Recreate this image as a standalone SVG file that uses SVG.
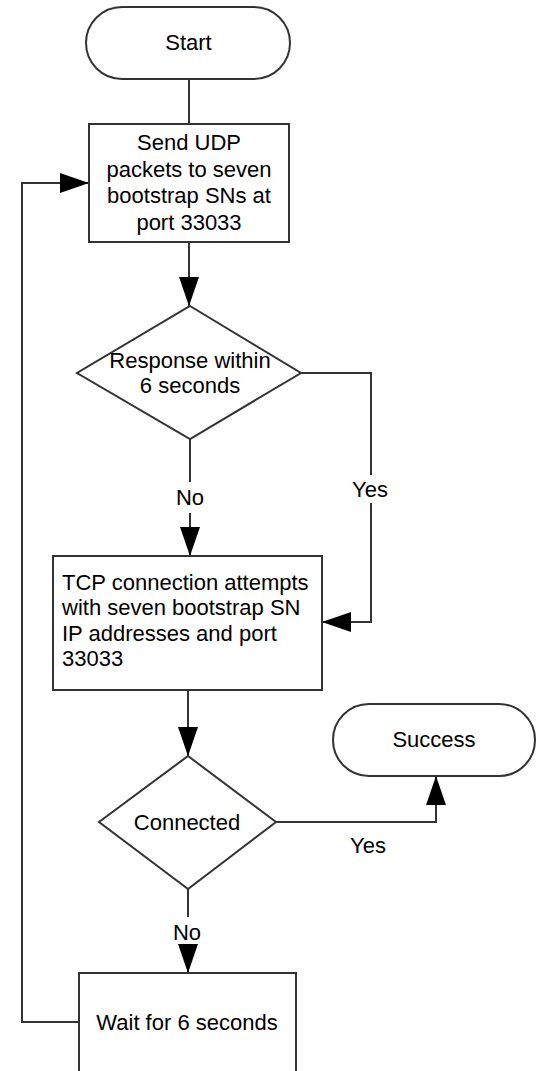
<svg xmlns="http://www.w3.org/2000/svg" width="536" height="1071" viewBox="0 0 536 1071">
<style>
.shape{fill:#fff;stroke:#333;stroke-width:2}
.line{fill:none;stroke:#333;stroke-width:2}
.arr{marker-end:url(#ah)}
text{font-family:"Liberation Sans",Arial,sans-serif;font-size:22px;fill:#000}
.c{text-anchor:middle}
</style>
<defs>
<marker id="ah" markerUnits="userSpaceOnUse" markerWidth="30" markerHeight="22" refX="29" refY="10" orient="auto">
<path d="M0,0 L29,10 L0,20 Z" fill="#000"/>
</marker>
</defs>
<rect width="536" height="1071" fill="#fff"/>
<g id="connectors">
<path class="line" d="M189,79 V124"/>
<path class="line arr" d="M189,242 V306"/>
<path class="line" d="M190,439 V482"/>
<path class="line arr" d="M190,513 V556"/>
<path class="line" d="M301,373 H371 V475"/>
<path class="line arr" d="M371,503 V622 H322"/>
<path class="line arr" d="M188,690 V756"/>
<path class="line arr" d="M276,822 H436 V776"/>
<path class="line" d="M188,889 V917"/>
<path class="line arr" d="M188,945 V973"/>
<path class="line arr" d="M79,1022 H22 V183 H89"/>
<text class="c" x="190" y="505">No</text>
<text class="c" x="370" y="497">Yes</text>
<text class="c" x="368" y="853">Yes</text>
<text class="c" x="187" y="940">No</text>
</g>
<g id="start">
<rect class="shape" x="86" y="7" width="204" height="72" rx="36" ry="36"/>
<text class="c" x="188.5" y="50">Start</text>
</g>
<g id="send-udp">
<rect class="shape" x="89" y="124" width="200" height="118"/>
<text class="c" x="189" y="150">Send UDP</text>
<text class="c" x="189" y="177">packets to seven</text>
<text class="c" x="189" y="203">bootstrap SNs at</text>
<text class="c" x="189" y="230">port 33033</text>
</g>
<g id="response">
<polygon class="shape" points="190,306 301,373 190,439 77,373"/>
<text class="c" x="190" y="368">Response within</text>
<text class="c" x="190" y="393">6 seconds</text>
</g>
<g id="tcp">
<rect class="shape" x="53" y="556" width="269" height="134"/>
<text x="62" y="590">TCP connection attempts</text>
<text x="62" y="615">with seven bootstrap SN</text>
<text x="62" y="641">IP addresses and port</text>
<text x="62" y="666">33033</text>
</g>
<g id="connected">
<polygon class="shape" points="188,756 276,822 188,889 99,822"/>
<text class="c" x="187" y="830">Connected</text>
</g>
<g id="success">
<rect class="shape" x="333" y="704" width="202" height="72" rx="36" ry="36"/>
<text class="c" x="434" y="747">Success</text>
</g>
<g id="wait">
<rect class="shape" x="79" y="973" width="217" height="130"/>
<text class="c" x="187" y="1030">Wait for 6 seconds</text>
</g>
</svg>
